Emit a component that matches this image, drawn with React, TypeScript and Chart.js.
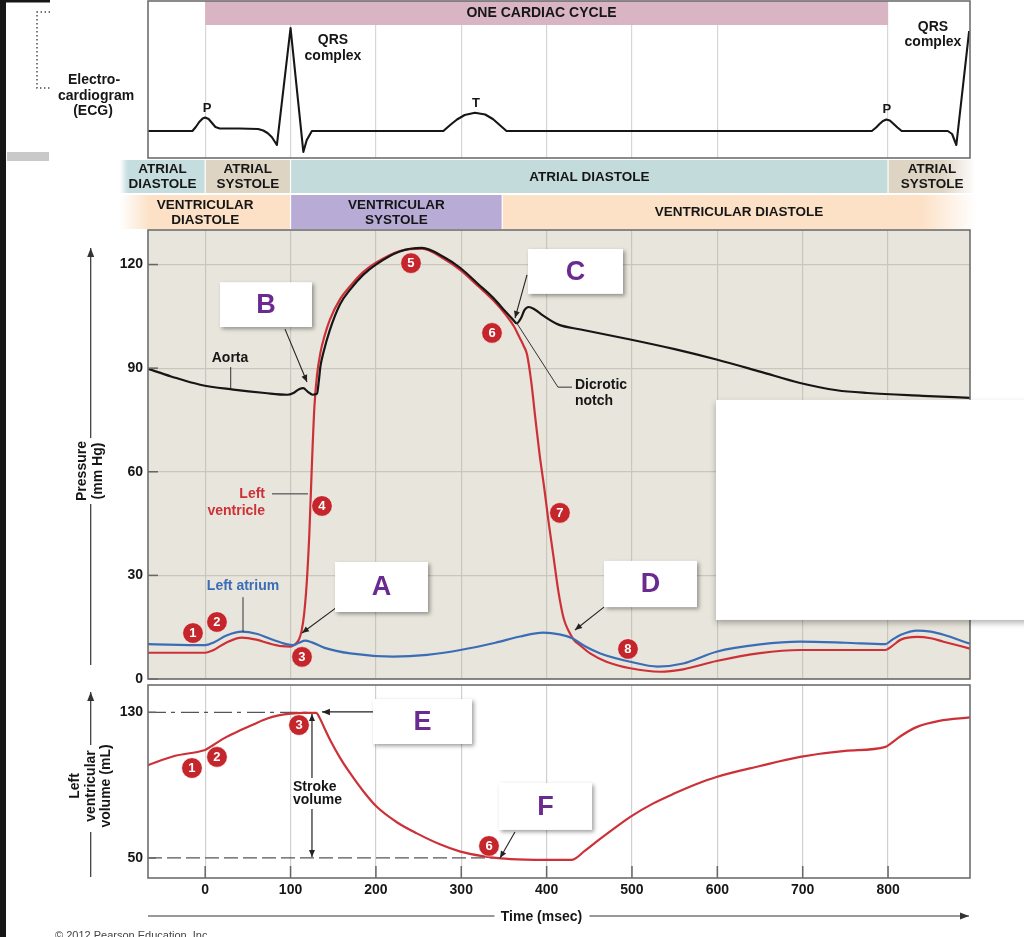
import React, { useEffect, useRef } from "react";
import { Chart, registerables } from "chart.js";

Chart.register(...registerables);

const FONT = '"Liberation Sans", Arial, Helvetica, sans-serif';
Chart.defaults.font.family = FONT;

/* ---------------- data ---------------- */
const timeMin = -67;
const timeMax = 896;
const timeTicks = [0, 100, 200, 300, 400, 500, 600, 700, 800];
const cardiacCycle = [0, 800];

const ecgMin = -0.27;
const ecgMax = 1.3;
const ecgTime = [-67, -15, -11, -7, -3, 0, 4, 8, 12, 17, 40, 62, 68, 73, 78, 84, 100, 115, 119, 125, 279, 287, 295, 304, 316, 328, 337, 345, 353, 781, 786, 790, 794, 798, 802, 806, 811, 816, 870, 875, 880, 895];
const ecgMv = [0, 0, 0.04, 0.09, 0.125, 0.135, 0.12, 0.08, 0.04, 0.025, 0.025, 0.02, 0.005, -0.02, -0.06, -0.14, 1.03, -0.21, -0.09, 0, 0, 0.06, 0.115, 0.16, 0.183, 0.165, 0.12, 0.06, 0, 0, 0.035, 0.07, 0.1, 0.115, 0.105, 0.075, 0.035, 0, 0, -0.03, -0.14, 1.0];

const pressureMin = 0;
const pressureMax = 130;
const pressureTicks = [0, 30, 60, 90, 120];

const aortaTime = [-67, -40, -6, 33, 70, 96, 104, 110, 115, 120, 126, 131, 133, 135, 138, 146, 158, 170, 185, 200, 228, 254, 280, 299, 320, 338, 352, 360, 365, 370, 374, 379, 386, 396, 414, 440, 498, 550, 599, 650, 697, 740, 776, 840, 896];
const aortaPressure = [89.8, 87.6, 85.2, 83.8, 82.8, 82.3, 82.9, 83.9, 84.2, 83.2, 82.3, 82.6, 86, 90.5, 94, 101, 108.5, 112.8, 117, 120, 123.8, 124.8, 122.1, 119, 114.3, 110.2, 106.3, 104.2, 103, 104.5, 106.8, 107.7, 107, 105.2, 102.6, 101.2, 98.3, 95.5, 92.5, 89, 85.7, 83.6, 82.8, 82, 81.4];

const ventricleTime = [-67, 0, 10, 25, 43, 60, 75, 90, 100, 106, 110, 113, 116, 119, 122, 125, 128, 131, 135, 140, 146, 158, 170, 185, 200, 228, 254, 280, 299, 320, 338, 352, 362, 368, 373, 377, 382, 387, 392, 397, 402, 408, 414, 420, 426, 432, 440, 451, 470, 498, 533, 560, 599, 650, 697, 760, 797, 805, 815, 834, 850, 865, 896];
const ventriclePressure = [7.6, 7.6, 8.4, 10.6, 12.0, 11.4, 10.3, 9.5, 9.4, 10.2, 11.5, 14, 19, 28, 42, 62, 79, 88, 94.5, 99.5, 104, 110, 113.8, 117.8, 120.5, 123.9, 124.6, 121.6, 118.4, 113.7, 109.5, 105.5, 102, 99, 96.5, 94, 86, 75, 64.5, 55.7, 46, 35.5, 25, 17.5, 13.8, 11.3, 9.6, 7.4, 5, 3.1, 2.1, 2.8, 5.2, 7.5, 8.4, 8.4, 8.4, 9.6, 11.4, 12.2, 11.8, 10.8, 8.8];

const atriumTime = [-67, 0, 10, 25, 43, 60, 80, 95, 103, 110, 117, 125, 140, 170, 220, 260, 299, 340, 369, 396, 415, 430, 445, 463, 498, 530, 560, 599, 650, 697, 750, 797, 805, 815, 834, 850, 865, 896];
const atriumPressure = [10.1, 9.8, 10.6, 12.6, 13.7, 13.1, 11.3, 10.1, 9.8, 10.5, 11.1, 10.6, 9.0, 7.4, 6.5, 7.0, 8.4, 10.5, 12.3, 13.4, 12.9, 11.8, 9.5, 7.4, 5.0, 3.6, 4.5, 7.9, 10.0, 10.8, 10.5, 10.1, 11.4, 12.8, 14.0, 13.7, 12.8, 10.2];

const volumeMin = 39;
const volumeMax = 145;
const volumeTicks = [50, 130];
const strokeVolumeTop = 130;
const strokeVolumeBottom = 50;
const volumeTime = [-67, -37, -1, 1, 10, 25, 41, 57, 72, 86, 100, 115, 130, 134, 140, 147, 158, 170, 185, 201, 225, 248, 275, 299, 325, 346, 375, 400, 429, 445, 460, 480, 498, 525, 550, 575, 599, 650, 697, 750, 797, 803, 815, 834, 860, 896];
const volumeMl = [101, 105.9, 109.2, 109.6, 112.2, 116.5, 120.1, 123.5, 126.5, 128.3, 129.3, 129.7, 129.7, 127, 121, 114.2, 105, 96.4, 86.8, 78.1, 69.5, 63.5, 57.5, 53.5, 51, 49.8, 49.1, 48.9, 48.9, 54, 59.5, 66.5, 72.6, 80, 85.5, 90.5, 94.5, 100.5, 105.5, 108.8, 111, 112.8, 117, 122, 125.3, 127.2];

const atrialPhaseLabels = [["ATRIAL", "DIASTOLE"], ["ATRIAL", "SYSTOLE"], ["ATRIAL DIASTOLE"], ["ATRIAL", "SYSTOLE"]];
const atrialPhaseBounds = [-100, 0, 100, 800, 903];
const ventricularPhaseLabels = [["VENTRICULAR", "DIASTOLE"], ["VENTRICULAR", "SYSTOLE"], ["VENTRICULAR DIASTOLE"]];
const ventricularPhaseBounds = [-100, 100, 348, 903];

/* ---------------- styles ---------------- */
const atrialPhaseColors = ["#c6dde0", "#ddd4c4", "#c3dcdb", "#ddd4c4"];
const ventricularPhaseColors = ["#fce1c6", "#b8acd7", "#fce1c6"];
const RED = "#cc3138";
const BLUE = "#3a6db5";
const INK = "#161616";
const FRAME = "#6e6e6e";
const PURPLE = "#6a2a90";

/* ---------------- drawing helpers ---------------- */
const pts = (xs: number[], ys: number[]) => xs.map((x, i) => ({ x, y: ys[i] }));

function rgba(hex: string, a: number) {
  const n = parseInt(hex.slice(1), 16);
  return `rgba(${(n >> 16) & 255},${(n >> 8) & 255},${n & 255},${a})`;
}

function txt(ctx: any, s: string, x: number, y: number, o: any = {}) {
  ctx.save();
  ctx.font = `${o.weight ?? "bold"} ${o.size ?? 14}px ${FONT}`;
  ctx.fillStyle = o.color ?? INK;
  ctx.textAlign = o.align ?? "center";
  ctx.textBaseline = "middle";
  if (o.rotate) {
    ctx.translate(x, y);
    ctx.rotate(o.rotate);
    ctx.fillText(s, 0, 0);
  } else {
    ctx.fillText(s, x, y);
  }
  ctx.restore();
}

function head(ctx: any, x1: number, y1: number, x2: number, y2: number, color: string, len = 8, half = 3.3) {
  const a = Math.atan2(y2 - y1, x2 - x1);
  ctx.beginPath();
  ctx.moveTo(x2, y2);
  ctx.lineTo(x2 - len * Math.cos(a) + half * Math.sin(a), y2 - len * Math.sin(a) - half * Math.cos(a));
  ctx.lineTo(x2 - len * Math.cos(a) - half * Math.sin(a), y2 - len * Math.sin(a) + half * Math.cos(a));
  ctx.closePath();
  ctx.fillStyle = color;
  ctx.fill();
}

function poly(ctx: any, p: number[][], o: any = {}) {
  const color = o.color ?? "#222";
  ctx.save();
  ctx.strokeStyle = color;
  ctx.lineWidth = o.width ?? 1.2;
  ctx.setLineDash(o.dash ?? []);
  ctx.beginPath();
  p.forEach(([x, y], i) => (i ? ctx.lineTo(x, y) : ctx.moveTo(x, y)));
  ctx.stroke();
  ctx.setLineDash([]);
  if (o.head) {
    const [x1, y1] = p[p.length - 2];
    const [x2, y2] = p[p.length - 1];
    head(ctx, x1, y1, x2, y2, color, o.headLen ?? 8, o.headHalf ?? 3.3);
  }
  ctx.restore();
}

function frame(ctx: any, a: any) {
  ctx.save();
  ctx.strokeStyle = FRAME;
  ctx.lineWidth = 1.6;
  ctx.strokeRect(a.left, a.top, a.right - a.left, a.bottom - a.top);
  ctx.restore();
}

function labelBox(ctx: any, x1: number, y1: number, x2: number, y2: number, letter: string) {
  ctx.save();
  ctx.shadowColor = "rgba(0,0,0,0.38)";
  ctx.shadowBlur = 4;
  ctx.shadowOffsetX = 2;
  ctx.shadowOffsetY = 2;
  ctx.fillStyle = "#fff";
  ctx.fillRect(x1, y1, x2 - x1, y2 - y1);
  ctx.restore();
  txt(ctx, letter, (x1 + x2) / 2, (y1 + y2) / 2 + 1, { size: 27, color: PURPLE });
}

function badge(ctx: any, x: number, y: number, n: number) {
  ctx.save();
  ctx.beginPath();
  ctx.arc(x, y, 10.3, 0, Math.PI * 2);
  ctx.fillStyle = "#c4262c";
  ctx.fill();
  ctx.lineWidth = 1;
  ctx.strokeStyle = "rgba(255,255,255,0.55)";
  ctx.stroke();
  ctx.restore();
  txt(ctx, String(n), x, y + 0.5, { size: 13, color: "#fff" });
}

function mapper(chart: any, yId = "y") {
  const xs = chart.scales.x;
  const ys = chart.scales[yId];
  return { X: (t: number) => xs.getPixelForValue(t), Y: (v: number) => ys.getPixelForValue(v) };
}

function phaseRow(ctx: any, X: any, labels: string[][], bounds: number[], colors: string[], y1: number, y2: number, fadeL: number, fadeR: number) {
  const last = labels.length - 1;
  for (let i = 0; i < labels.length; i++) {
    const x1 = X(bounds[i]) + (i > 0 ? 0.6 : 0);
    const x2 = X(bounds[i + 1]) - (i < last ? 0.6 : 0);
    const w = x2 - x1;
    let fill: any = colors[i];
    if (i === 0) {
      const g = ctx.createLinearGradient(x1, 0, x2, 0);
      g.addColorStop(0, rgba(colors[i], 0));
      g.addColorStop(Math.min(1, fadeL / w), colors[i]);
      g.addColorStop(1, colors[i]);
      fill = g;
    } else if (i === last) {
      const g = ctx.createLinearGradient(x1, 0, x2, 0);
      g.addColorStop(0, colors[i]);
      g.addColorStop(Math.max(0, 1 - fadeR / w), colors[i]);
      g.addColorStop(1, rgba(colors[i], 0));
      fill = g;
    }
    ctx.save();
    ctx.fillStyle = fill;
    ctx.fillRect(x1, y1, w, y2 - y1);
    ctx.restore();
    const cx = (X(bounds[i]) + X(bounds[i + 1])) / 2;
    const cy = (y1 + y2) / 2;
    const lines = labels[i];
    lines.forEach((s, k) => txt(ctx, s, cx, cy + (k - (lines.length - 1) / 2) * 15 + 0.5, { size: 13.5 }));
  }
}

function noPad(s: any) {
  s.paddingTop = 0;
  s.paddingBottom = 0;
  s.paddingLeft = 0;
  s.paddingRight = 0;
}

function xScale(gridColor: any, showLabels: boolean) {
  const base: any = {
    type: "linear",
    min: timeMin,
    max: timeMax,
    afterBuildTicks: (s: any) => {
      s.ticks = timeTicks.map((value) => ({ value }));
    },
    grid: { color: gridColor, lineWidth: 1.2, drawTicks: false },
    border: { display: false },
  };
  if (showLabels) {
    base.ticks = {
      padding: 4,
      color: INK,
      autoSkip: false,
      maxRotation: 0,
      font: { family: FONT, size: 14, weight: "bold" },
      callback: (v: any) => String(v),
    };
    base.afterFit = (s: any) => {
      s.height = 59;
      noPad(s);
    };
  } else {
    base.ticks = { display: false };
    base.afterFit = (s: any) => noPad(s);
  }
  return base;
}

/* ---------------- plugins ---------------- */
const ecgPlugin = {
  id: "ecgDecor",
  beforeDatasetsDraw(chart: any) {
    const { ctx } = chart;
    const { X, Y } = mapper(chart);
    ctx.save();
    ctx.fillStyle = "#d9b4c2";
    ctx.fillRect(X(cardiacCycle[0]), Y(ecgMax), X(cardiacCycle[1]) - X(cardiacCycle[0]), Y(1.06) - Y(ecgMax));
    ctx.restore();
    txt(ctx, "ONE CARDIAC CYCLE", X(394), Y(1.18), { size: 14 });
  },
  afterDraw(chart: any) {
    const { ctx, chartArea: a } = chart;
    const { X, Y } = mapper(chart);
    frame(ctx, a);
    txt(ctx, "P", X(2.1), Y(0.23), { size: 13 });
    txt(ctx, "T", X(317.2), Y(0.28), { size: 13 });
    txt(ctx, "P", X(798.7), Y(0.22), { size: 13 });
    txt(ctx, "QRS", X(149.7), Y(0.91));
    txt(ctx, "complex", X(149.7), Y(0.745));
    txt(ctx, "QRS", X(852.6), Y(1.04));
    txt(ctx, "complex", X(852.6), Y(0.885));
    txt(ctx, "Electro-", 94, 80);
    txt(ctx, "cardiogram", 96, 96);
    txt(ctx, "(ECG)", 93, 111);
    poly(ctx, [[50, 12], [37, 12], [37, 88], [50, 88]], { color: "#444", width: 1.4, dash: [1.4, 2.6] });
    ctx.save();
    ctx.fillStyle = "#161616";
    ctx.fillRect(0, 0, 50, 2.5);
    ctx.fillStyle = "#c9c9c9";
    ctx.fillRect(7, 152, 42, 9);
    ctx.restore();
    phaseRow(ctx, X, atrialPhaseLabels, atrialPhaseBounds, atrialPhaseColors, a.bottom + 2, a.bottom + 35, 8, 35);
    phaseRow(ctx, X, ventricularPhaseLabels, ventricularPhaseBounds, ventricularPhaseColors, a.bottom + 37, a.bottom + 71, 30, 55);
  },
};

const pressurePlugin = {
  id: "pressureDecor",
  beforeDraw(chart: any) {
    const { ctx, chartArea: a } = chart;
    ctx.save();
    ctx.fillStyle = "#e8e5dc";
    ctx.fillRect(a.left, a.top, a.right - a.left, a.bottom - a.top);
    ctx.restore();
  },
  afterDraw(chart: any) {
    const { ctx, chartArea: a } = chart;
    const { X, Y } = mapper(chart);
    pressureTicks.forEach((v) => poly(ctx, [[a.left, Y(v)], [a.left + 10, Y(v)]], { color: "#666", width: 1.5 }));
    frame(ctx, a);

    poly(ctx, [[X(29.9), Y(90.3)], [X(29.9), Y(84.2)]], { color: "#333", width: 1 });
    txt(ctx, "Aorta", X(29.1), Y(92.9));
    poly(ctx, [[X(78.3), Y(53.6)], [X(120.4), Y(53.6)]], { color: "#333", width: 1 });
    txt(ctx, "Left", X(70.1), Y(53.6), { color: RED, align: "right" });
    txt(ctx, "ventricle", X(70.1), Y(48.6), { color: RED, align: "right" });
    poly(ctx, [[X(44.3), Y(23.7)], [X(44.3), Y(13.6)]], { color: "#333", width: 1 });
    txt(ctx, "Left atrium", X(44.3), Y(26.9), { color: BLUE });
    poly(ctx, [[X(364.1), Y(103.4)], [X(413.3), Y(84.5)], [X(429.7), Y(84.5)]], { color: "#333", width: 1 });
    txt(ctx, "Dicrotic", X(433.2), Y(85.1), { align: "left" });
    txt(ctx, "notch", X(433.2), Y(80.5), { align: "left" });

    poly(ctx, [[X(93.5), Y(101.3)], [X(119.3), Y(86.0)]], { color: "#222", width: 1.1, head: true, headLen: 7, headHalf: 3 });
    poly(ctx, [[X(154.4), Y(20.8)], [X(113.4), Y(13.3)]], { color: "#222", width: 1.1, head: true, headLen: 7, headHalf: 3 });
    poly(ctx, [[X(377), Y(117)], [X(363), Y(104.5)]], { color: "#222", width: 1.1, head: true, headLen: 7, headHalf: 3 });
    poly(ctx, [[X(467.2), Y(20.8)], [X(433.2), Y(14.2)]], { color: "#222", width: 1.1, head: true, headLen: 7, headHalf: 3 });

    labelBox(ctx, X(17.3), Y(114.9), X(125.1), Y(101.9), "B");
    labelBox(ctx, X(152.1), Y(33.9), X(261.0), Y(19.4), "A");
    labelBox(ctx, X(378.2), Y(124.5), X(489.5), Y(111.5), "C");
    labelBox(ctx, X(467.2), Y(34.2), X(576.2), Y(20.8), "D");

    badge(ctx, X(-14.3), Y(13.3), 1);
    badge(ctx, X(13.8), Y(16.5), 2);
    badge(ctx, X(113.4), Y(6.4), 3);
    badge(ctx, X(136.8), Y(50.1), 4);
    badge(ctx, X(241.1), Y(120.4), 5);
    badge(ctx, X(336), Y(100.2), 6);
    badge(ctx, X(415.6), Y(48.1), 7);
    badge(ctx, X(495.3), Y(8.7), 8);

    ctx.save();
    ctx.shadowColor = "rgba(0,0,0,0.3)";
    ctx.shadowBlur = 6;
    ctx.shadowOffsetY = 3;
    ctx.fillStyle = "#fff";
    ctx.fillRect(X(598.4), Y(80.8), chart.width - X(598.4) + 10, Y(17.1) - Y(80.8));
    ctx.restore();

    const ax = 90.7;
    poly(ctx, [[ax, a.top + 435], [ax, a.top + 274]], { color: "#333", width: 1.2 });
    poly(ctx, [[ax, a.top + 208], [ax, a.top + 18]], { color: "#333", width: 1.2, head: true, headLen: 9, headHalf: 3.5 });
    txt(ctx, "Pressure", 82.5, a.top + 241, { rotate: -Math.PI / 2 });
    txt(ctx, "(mm Hg)", 98.5, a.top + 241, { rotate: -Math.PI / 2 });
  },
};

const volumePlugin = {
  id: "volumeDecor",
  beforeDatasetsDraw(chart: any) {
    const { ctx, chartArea: a } = chart;
    const { X, Y } = mapper(chart);
    poly(ctx, [[a.left, Y(strokeVolumeTop)], [X(125), Y(strokeVolumeTop)]], { color: "#555", width: 1.3, dash: [18, 5, 4, 6] });
    poly(ctx, [[a.left, Y(strokeVolumeBottom)], [X(345.4), Y(strokeVolumeBottom)]], { color: "#555", width: 1.3, dash: [14, 5] });
  },
  afterDraw(chart: any) {
    const { ctx, chartArea: a } = chart;
    const { X, Y } = mapper(chart);
    volumeTicks.forEach((v) => poly(ctx, [[a.left, Y(v)], [a.left + 8, Y(v)]], { color: "#666", width: 1.5 }));
    timeTicks.forEach((t) => poly(ctx, [[X(t), a.bottom], [X(t), a.bottom - 12]], { color: "#666", width: 1.5 }));
    frame(ctx, a);

    const sx = X(125.1);
    poly(ctx, [[sx, Y(93.9)], [sx, Y(129.1)]], { color: "#222", width: 1.2, head: true, headLen: 7, headHalf: 3 });
    poly(ctx, [[sx, Y(76.9)], [sx, Y(50.5)]], { color: "#222", width: 1.2, head: true, headLen: 7, headHalf: 3 });
    txt(ctx, "Stroke", X(102.9), Y(89), { align: "left" });
    txt(ctx, "volume", X(102.9), Y(81.8), { align: "left" });

    poly(ctx, [[X(196.6), Y(130.2)], [X(136.8), Y(130.2)]], { color: "#222", width: 1.2, head: true, headLen: 8, headHalf: 3.3 });
    poly(ctx, [[X(362.9), Y(64.3)], [X(345.4), Y(50.0)]], { color: "#222", width: 1.1, head: true, headLen: 7, headHalf: 3 });
    labelBox(ctx, X(196.6), Y(137.3), X(312.6), Y(112.6), "E");
    labelBox(ctx, X(344.2), Y(91.2), X(453.2), Y(65.4), "F");

    badge(ctx, X(-15.5), Y(99.4), 1);
    badge(ctx, X(13.8), Y(105.5), 2);
    badge(ctx, X(109.9), Y(123), 3);
    badge(ctx, X(332.5), Y(56.6), 6);

    const ax = 90.7;
    poly(ctx, [[ax, a.bottom - 1], [ax, a.top + 147]], { color: "#333", width: 1.2 });
    poly(ctx, [[ax, a.top + 60], [ax, a.top + 7]], { color: "#333", width: 1.2, head: true, headLen: 9, headHalf: 3.5 });
    txt(ctx, "Left", 75, a.top + 101, { rotate: -Math.PI / 2 });
    txt(ctx, "ventricular", 90.7, a.top + 101, { rotate: -Math.PI / 2 });
    txt(ctx, "volume (mL)", 106.5, a.top + 101, { rotate: -Math.PI / 2 });

    const ty = a.bottom + 38;
    poly(ctx, [[a.left, ty], [X(394) - 47, ty]], { color: "#333", width: 1.2 });
    poly(ctx, [[X(394) + 48, ty], [a.right - 1, ty]], { color: "#333", width: 1.2, head: true, headLen: 9, headHalf: 3.5 });
    txt(ctx, "Time (msec)", X(394), ty + 1);

    txt(ctx, "\u00a9 2012 Pearson Education, Inc.", 55, a.bottom + 58, { size: 11, weight: "normal", color: "#444", align: "left" });
  },
};

/* ---------------- configs ---------------- */
const common = (padding: any) => ({
  animation: false,
  responsive: false,
  events: [],
  layout: { padding },
  plugins: { legend: { display: false }, tooltip: { enabled: false } },
});

function ecgConfig(): any {
  return {
    type: "line",
    data: {
      datasets: [
        { data: pts(ecgTime, ecgMv), borderColor: INK, borderWidth: 2.1, pointRadius: 0, tension: 0, borderJoinStyle: "round", fill: false },
      ],
    },
    options: {
      ...common({ left: 148, right: 54, top: 1, bottom: 72 }),
      scales: {
        x: xScale((c: any) => (c.tick && c.tick.value === 700 ? "rgba(0,0,0,0)" : "#d6d6d6"), false),
        y: { type: "linear", min: ecgMin, max: ecgMax, display: false },
      },
    },
    plugins: [ecgPlugin],
  };
}

function yAxis(min: number, max: number, ticks: number[], grid: any) {
  return {
    type: "linear",
    min,
    max,
    afterBuildTicks: (s: any) => {
      s.ticks = ticks.map((value) => ({ value }));
    },
    afterFit: (s: any) => {
      s.width = 148;
      noPad(s);
    },
    ticks: { padding: 5, color: INK, font: { family: FONT, size: 14, weight: "bold" }, callback: (v: any) => String(v) },
    grid,
    border: { display: false },
  };
}

function pressureConfig(): any {
  const line = (xs: number[], ys: number[], color: string) => ({
    data: pts(xs, ys),
    borderColor: color,
    borderWidth: 2.2,
    pointRadius: 0,
    cubicInterpolationMode: "monotone",
    fill: false,
  });
  return {
    type: "line",
    data: {
      datasets: [
        line(atriumTime, atriumPressure, BLUE),
        line(aortaTime, aortaPressure, INK),
        line(ventricleTime, ventriclePressure, RED),
      ],
    },
    options: {
      ...common({ left: 0, right: 54, top: 1, bottom: 4 }),
      scales: {
        x: xScale("#c9c6bd", false),
        y: yAxis(pressureMin, pressureMax, pressureTicks, { color: "#c9c6bd", lineWidth: 1.2, drawTicks: false }),
      },
    },
    plugins: [pressurePlugin],
  };
}

function volumeConfig(): any {
  return {
    type: "line",
    data: {
      datasets: [
        { data: pts(volumeTime, volumeMl), borderColor: RED, borderWidth: 2.2, pointRadius: 0, cubicInterpolationMode: "monotone", fill: false },
      ],
    },
    options: {
      ...common({ left: 0, right: 54, top: 2, bottom: 0 }),
      scales: {
        x: xScale("#d0d0d0", true),
        y: yAxis(volumeMin, volumeMax, volumeTicks, { display: false, drawTicks: false }),
      },
    },
    plugins: [volumePlugin],
  };
}

/* ---------------- component ---------------- */
export default function App() {
  const ecgRef = useRef<HTMLCanvasElement>(null);
  const pressureRef = useRef<HTMLCanvasElement>(null);
  const volumeRef = useRef<HTMLCanvasElement>(null);

  useEffect(() => {
    const charts = [
      new Chart(ecgRef.current as HTMLCanvasElement, ecgConfig()),
      new Chart(pressureRef.current as HTMLCanvasElement, pressureConfig()),
      new Chart(volumeRef.current as HTMLCanvasElement, volumeConfig()),
    ];
    return () => charts.forEach((c) => c.destroy());
  }, []);

  return (
    <div style={{ position: "absolute", left: 0, top: 0, width: 1024, height: 937, background: "#fff", overflow: "hidden" }}>
      <canvas ref={ecgRef} width={1024} height={230} style={{ position: "absolute", left: 0, top: 0 }} />
      <canvas ref={pressureRef} width={1024} height={454} style={{ position: "absolute", left: 0, top: 229 }} />
      <canvas ref={volumeRef} width={1024} height={254} style={{ position: "absolute", left: 0, top: 683 }} />
      <div style={{ position: "absolute", left: 0, top: 0, width: 6, height: 937, background: "#161616" }} />
    </div>
  );
}
